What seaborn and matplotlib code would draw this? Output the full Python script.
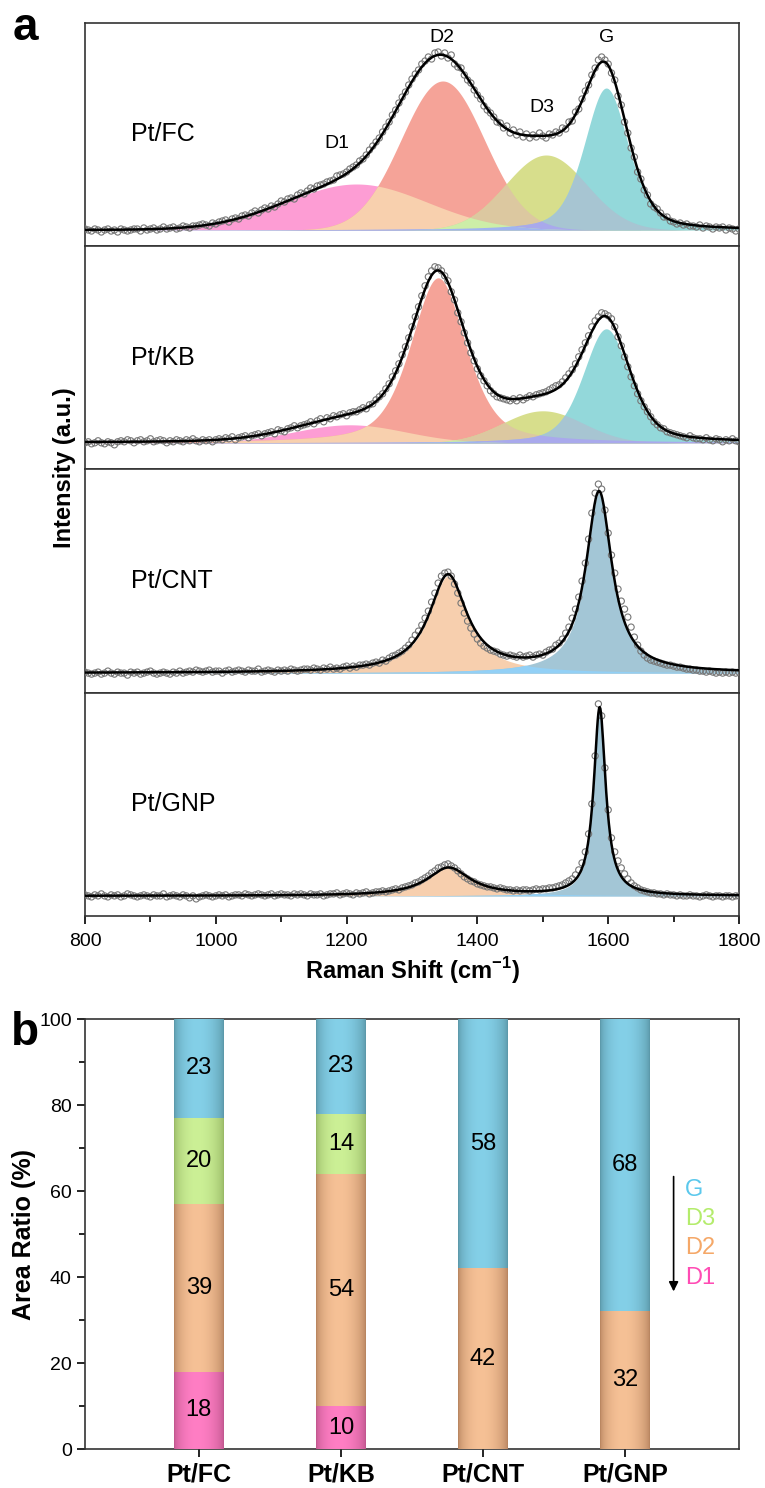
import numpy as np
import matplotlib
matplotlib.use("Agg")
import matplotlib.pyplot as plt
import seaborn as sns
from matplotlib.colors import to_rgb
from matplotlib.ticker import MultipleLocator, AutoMinorLocator

samples = ["Pt/FC", "Pt/KB", "Pt/CNT", "Pt/GNP"]

# measured spectra, one point every 5 cm-1 from 800 to 1800 (arbitrary units)
obs_start, obs_step = 800, 5
fc_obs = [1, 0, -1, 1, 0, -2, 0, 1, -1, 0, -2, 1, 0, -1, 0, 1,
          1, -1, 2, 0, 1, 2, 0, 1, 3, 1, 2, 3, 1, 2, 4, 3, 2, 4, 4, 5,
          6, 5, 4, 7, 6, 8, 9, 10, 8,
          11, 12, 11, 14, 15, 14, 17, 19, 17, 20, 22, 21, 24, 23, 26,
          29, 28, 31, 32, 31, 35, 37, 36, 39, 42, 41, 44, 45, 46, 48, 49, 50, 54, 55, 56,
          58, 61, 63, 65, 69, 71, 75, 80, 84, 88, 92, 98, 103, 108, 115, 120, 127, 133, 138, 145,
          151, 156, 160, 166, 169, 173, 171, 177,
          178, 174, 177, 172, 175, 166, 163, 162, 155, 150, 147, 140, 135, 131, 124, 120, 117, 113, 108, 107,
          102, 104, 97, 100, 95, 98, 93, 96, 92, 95, 93, 97, 94, 92, 96, 95, 98, 97, 102, 101,
          108, 109, 118, 121, 131, 139, 145, 155, 162, 170, 173, 170, 166, 157, 150, 134, 125, 108, 97, 82,
          73, 58, 51, 40, 35, 26, 23, 21, 17, 13, 13, 9, 8, 6, 7, 5, 6, 4, 4, 3,
          5, 2, 4, 3, 1, 3, 2, 3, 0, 2, 1, -1, 1]
kb_obs = [0, 1, -1, 0, 2, 0, -1, 1, 0, -2, 1,
          2, 1, 3, 2, 0, 2, 3, 1, 2, 4, 1, 2, 3, 2, 0, 2, 1, 3, 2, 1, 3, 2, 4, 2, 1, 3, 2, 3, 1, 3,
          4, 3, 5, 4, 6, 3, 5, 6, 7, 5, 7, 8, 9, 7, 9, 10, 11, 9, 13, 12,
          11, 14, 15, 17, 15, 17, 18, 19, 21, 19, 22, 24, 21, 25, 24, 27, 26, 28, 29, 27,
          30, 31, 31, 33, 35, 34, 38, 39, 43, 46, 49, 54, 59, 66, 72, 79, 88, 96, 105, 116,
          126, 136, 147, 157, 166, 172, 176, 175, 172, 167, 162, 151, 143, 130, 121, 110, 100, 90, 82, 74,
          67, 62, 57, 52, 49, 46, 45, 44, 43, 42, 44, 42, 45, 43, 45, 47, 46, 48, 49, 50,
          51, 53, 55, 57, 58, 61, 65, 69, 73, 79, 86, 93, 100, 107, 116, 122, 126, 130, 129, 127,
          124, 116, 106, 97, 86, 76, 66, 57, 49, 42, 36, 31, 26, 21, 18, 15, 14, 11, 10, 9,
          8, 7, 6, 5, 7, 5, 4, 4, 3, 5, 3, 2, 4, 3, 1, 3, 2, 4, 2, 1]
cnt_obs = [1, 0, -1, 0, 1, -1, 0, 2, 0, -1, 1, 0, 0, -2, 1, 0, 1, -1, 0, 1, 2, 0, -1, 0, 1, 0, -1, 1, 0, 2, 0, 1,
           2, 1, 3, 2, 1, 2, 3, 1, 2, 2, 0, 2, 3, 1, 2, 3, 2, 1, 3, 2, 2, 4, 1, 2, 3, 2, 1, 3, 2, 3, 2, 4, 3, 2, 3, 4,
           4, 3, 5, 4, 3, 5, 4, 6, 4, 5, 4, 6, 7, 5, 7, 6, 8, 8, 9, 8,
           10, 11, 10, 13, 12, 15, 17, 18, 20, 22, 25, 28, 33, 38, 42, 48, 55, 62, 71, 80,
           90, 97, 100, 101, 97, 89, 80, 70, 60, 52, 45, 39, 34, 30, 27, 25, 23, 22, 21, 19,
           18, 17, 18, 17, 16, 18, 16, 17, 18, 16, 18, 19, 18, 21, 23, 24, 28, 30, 34, 40,
           46, 55, 64, 76, 92, 110, 134, 160, 180, 189, 184, 163, 140, 118, 100, 84, 72, 64, 56, 46,
           36, 28, 22, 18, 15, 13, 12, 11, 10, 9, 8, 8, 7, 6, 6, 5, 4, 4, 3, 3,
           2, 2, 1, 2, 1, 0, 1, 0, 1, 0, 1, 0, 1]
gnp_obs = [1, 0, -1, 1, 0, 2, 0, -1, 1, 0, 1, -1, 0, 2, 1, 0, -1, 0, 1, 0, -1, 1, 0, 0, 2,
           -1, 0, 1, 0, -1, 1, 0, -2, 0, -3, -1, 0, 1, 0, -1, 0, 1, 0, 1, -1, 0, 1,
           1, 0, 2, 1, 0, 1, 2, 1, 0, 1, 2, 0, 1, 2, 1, 1, 0, 2, 1, 2, 1, 0, 2, 1, 1, 2, 0, 1, 2,
           2, 3, 1, 2, 3, 2, 1, 3, 2, 3, 4, 2, 3, 4, 4, 5, 4, 5, 6, 7, 6,
           8, 9, 10, 11, 13, 14, 16, 18, 20, 23, 25, 28, 29, 31, 32, 30, 28, 25, 22, 19, 17, 15, 14, 12,
           11, 10, 9, 9, 8,
           7, 8, 7, 6, 6, 5, 6, 5, 6, 6, 5, 6, 7, 6, 7, 7, 8, 8, 9, 10,
           11, 13, 15, 17, 21, 26, 33, 44, 62, 92, 140, 192, 180, 128, 86, 58, 44, 35, 28, 22, 17, 13, 10, 8, 6,
           5, 4, 3, 3, 2, 2, 1, 2, 1, 1, 0, 1, 0, 0, 1, 0, 0, -1, 0, 1, 0, -1, 0, 0, -1, 0, 0, -1, 0, 0]

# fitted bands: (centre cm-1, height, half width, lorentzian fraction)
fc_bands = {"D1": (1215, 46, 127, 0.0), "D2": (1347, 149, 75, 0.0),
            "D3": (1505, 75, 73, 0.0), "G": (1597, 142, 40, 0.4)}
kb_bands = {"D1": (1205, 18, 100, 0.0), "D2": (1340, 165, 50, 0.5),
            "D3": (1500, 32, 73, 0.0), "G": (1597, 114, 42, 0.4)}
cnt_bands = {"D2": (1355, 97, 35, 1.0), "G": (1586, 180, 24, 1.0)}
gnp_bands = {"D2": (1356, 28, 40, 1.0), "G": (1587, 188, 11, 1.0)}

# area ratios (%)
area_d1 = [18, 10, 0, 0]
area_d2 = [39, 54, 42, 32]
area_d3 = [20, 14, 0, 0]
area_g = [23, 23, 58, 68]


def band(x, c, h, w, eta):
    """pseudo-Voigt profile"""
    d = (x - c) / w
    return h * (eta / (1 + d * d) + (1 - eta) * np.exp(-np.log(2) * d * d))


sns.set_style("ticks")
plt.rcParams["font.family"] = ["Liberation Sans", "DejaVu Sans"]
plt.rcParams["mathtext.fontset"] = "custom"
plt.rcParams["mathtext.bf"] = "Liberation Sans:bold"
plt.rcParams["mathtext.rm"] = "Liberation Sans"
for key in ["text.color", "axes.labelcolor", "xtick.color", "ytick.color"]:
    plt.rcParams[key] = "black"

W, H = 765, 1488
fig = plt.figure(figsize=(W / 100, H / 100), dpi=100)


def add_ax(l, t, r, b):
    return fig.add_axes([l / W, 1 - b / H, (r - l) / W, (b - t) / H])


# fill colours of single bands and of their overlaps
fills_fc = {"D1": "#fd9dd4", "D2": "#f5a398", "D3": "#d7de8c", "G": "#93d8da"}
over_fc = [("D1", "D2", "#f8d0ae"), ("D2", "D3", "#dcc8a0"),
           ("D3", "G", "#a7c5d2"), ("D2", "G", "#a9a9ec"),
           ("D1", "D3", "#cdeea8"), ("D1", "G", "#a0b4f0")]
fills_cg = {"D2": "#f7cfae", "G": "#a3c6d6"}
over_cg = [("D2", "G", "#92d0f6")]

panels = [(fc_obs, fc_bands, fills_fc, over_fc), (kb_obs, kb_bands, fills_fc, over_fc),
          (cnt_obs, cnt_bands, fills_cg, over_cg), (gnp_obs, gnp_bands, fills_cg, over_cg)]
offsets = [16, 26.5, 19.5, 20]
ph = 223.3
xs = np.arange(800, 1801, 1.0)

for i, (obs, bands, fills, overs) in enumerate(panels):
    t = 22.7 + i * ph
    ax = add_ax(85, t, 739, t + ph)
    comps = {k: band(xs, *v) for k, v in bands.items()}
    for k, y in comps.items():
        ax.fill_between(xs, 0, y, color=fills[k], lw=0)
    for a, b, col in overs:
        ax.fill_between(xs, 0, np.minimum(comps[a], comps[b]), color=col, lw=0)
    total = sum(comps.values())
    obs_x = obs_start + obs_step * np.arange(len(obs))
    sns.scatterplot(x=obs_x, y=obs, ax=ax, marker="o", s=20, facecolor="none",
                    edgecolor="#777777", linewidth=0.8, zorder=3)
    sns.lineplot(x=xs, y=total, ax=ax, color="black", lw=1.8, zorder=4)
    ax.set_xlim(800, 1800)
    ax.set_ylim(-offsets[i], ph - offsets[i])
    ax.set_yticks([])
    ax.text(0.07, 0.5, samples[i], transform=ax.transAxes, fontsize=18, va="center")
    for s in ax.spines.values():
        s.set_linewidth(1.2)
        s.set_color("#333333")
    if i < 3:
        ax.set_xticks([])
    else:
        ax.xaxis.set_major_locator(MultipleLocator(200))
        ax.xaxis.set_minor_locator(MultipleLocator(100))
        ax.tick_params(axis="x", which="major", direction="out", length=6,
                       width=1.2, labelsize=14, pad=6)
        ax.tick_params(axis="x", which="minor", direction="out", length=4, width=1.2)
        ax.set_xlabel(r"Raman Shift (cm$^{\mathbf{-1}}$)", fontsize=17,
                      fontweight="bold", labelpad=4)
    if i == 0:
        for name, px, py in [("D1", 1185, 87), ("D2", 1345, 192),
                             ("D3", 1498, 123), ("G", 1597, 192)]:
            ax.text(px, py, name, fontsize=14, ha="center", va="center")

fig.text(65 / W, 1 - 468 / H, "Intensity (a.u.)", rotation=90, fontsize=17,
         fontweight="bold", ha="center", va="center")
fig.text(25 / W, 1 - 28 / H, "a", fontsize=33, fontweight="bold", ha="center", va="center")
fig.text(25 / W, 1 - 1033 / H, "b", fontsize=33, fontweight="bold", ha="center", va="center")

# ---- panel b: stacked area ratios with shaded bars
axb = add_ax(85, 1019, 739, 1449)
parts = [("D1", area_d1, "#ff7ec4", "#c0568e"), ("D2", area_d2, "#f6c196", "#b7845f"),
         ("D3", area_d3, "#ccf096", "#97b865"), ("G", area_g, "#84d0e8", "#5b97a8")]
bw = 0.35
cum = np.zeros(4)
tops = []
for name, vals, cc, ec in parts:
    cum = cum + np.array(vals)
    tops.append(cum.copy())
for (name, vals, cc, ec), top in reversed(list(zip(parts, tops))):
    sns.barplot(x=samples, y=top, color=cc, width=bw, ax=axb, saturation=1, zorder=2)

# cylinder-like shading across each bar
u = np.linspace(0, 1, 64)
shade = np.sin(np.pi * u ** 0.9) ** 0.6
bottom = np.zeros(4)
for name, vals, cc, ec in parts:
    c1, c0 = np.array(to_rgb(cc)), np.array(to_rgb(ec))
    img = (c0[None, :] + (c1 - c0)[None, :] * shade[:, None])[None, :, :]
    for j, v in enumerate(vals):
        if v <= 0:
            continue
        top = min(bottom[j] + v, 100)
        axb.imshow(img, extent=(j - bw / 2, j + bw / 2, bottom[j], top),
                   aspect="auto", interpolation="bilinear", zorder=3)
        axb.text(j, (bottom[j] + top) / 2, str(v), ha="center", va="center",
                 fontsize=17, zorder=5)
    bottom = bottom + np.array(vals)

axb.set_xlim(-0.8, 3.8)
axb.set_ylim(0, 100)
axb.yaxis.set_major_locator(MultipleLocator(20))
axb.yaxis.set_minor_locator(AutoMinorLocator(2))
axb.tick_params(axis="y", which="major", direction="out", length=6, width=1.2, labelsize=14)
axb.tick_params(axis="y", which="minor", direction="out", length=4, width=1.2)
axb.tick_params(axis="x", direction="out", length=6, width=1.2, pad=4)
for lab in axb.get_xticklabels():
    lab.set_fontsize(18)
    lab.set_fontweight("bold")
axb.set_ylabel("Area Ratio (%)", fontsize=18, fontweight="bold", labelpad=2)
axb.set_xlabel("")
for s in axb.spines.values():
    s.set_linewidth(1.2)
    s.set_color("#333333")

axb.annotate("", xy=(3.34, 36), xytext=(3.34, 64),
             arrowprops=dict(arrowstyle="-|>", color="black", lw=1.2, mutation_scale=14))
for name, yy, col in [("G", 60.2, "#5bc8ec"), ("D3", 53.5, "#b4ec6c"),
                      ("D2", 46.7, "#f5a868"), ("D1", 39.8, "#ff4cb4")]:
    axb.text(3.42, yy, name, color=col, fontsize=17, va="center", ha="left")

fig.savefig("out.png", dpi=100)
